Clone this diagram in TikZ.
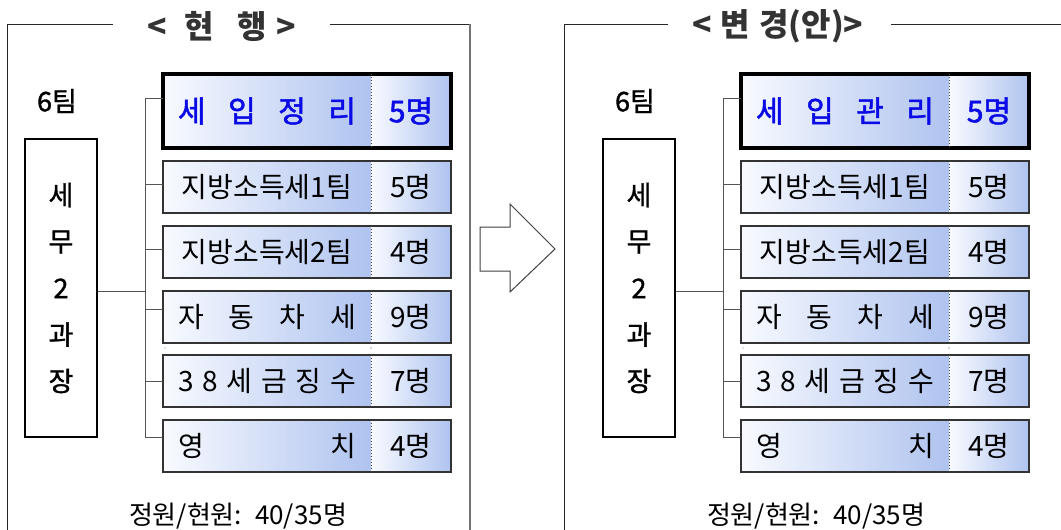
\documentclass[tikz,border=0pt]{standalone}
\usepackage{fontspec}
\setmainfont{Noto Sans CJK KR}
\newfontfamily\semibold[FakeBold=1.2]{Noto Sans CJK KR}
\newfontfamily\hlfont[FakeBold=1.6]{Noto Sans CJK KR}
\usetikzlibrary{calc}
\definecolor{gradL}{HTML}{F8FAFF}
\definecolor{gradR}{HTML}{AFC3EF}
\definecolor{titlegray}{HTML}{333333}
\definecolor{linegray}{HTML}{555555}
\definecolor{hlblue}{HTML}{0A0AE6}
\newcommand\bodyfont{\fontsize{28}{28}\selectfont}
\tikzset{
  cellname/.style={left color=gradL, right color=gradR, minimum width=208pt,
    minimum height=52pt, inner sep=0pt, outer sep=0pt, anchor=north west, font=\bodyfont},
  cellcount/.style={cellname, minimum width=80pt},
  boxline/.style={draw=black!80, line width=1.2pt},
  thickline/.style={draw=black, line width=4pt},
  divider/.style={draw=black!75, dotted, line width=1pt},
  conn/.style={draw=linegray, line width=1pt},
  frameline/.style={draw=black!85, line width=1pt},
  team/.style={font={\semibold\fontsize{27}{27}\selectfont}, inner sep=0pt},
  mgr/.style={draw=black, line width=2.5pt, minimum width=72pt, minimum height=298pt,
    align=center, inner sep=0pt, font={\semibold\fontsize{27}{46.5}\selectfont}},
  hltext/.style={text=hlblue, font={\hlfont\fontsize{30}{30}\selectfont}},
  tinymark/.style={font={\fontsize{3}{3}\selectfont}, text=black!45, inner sep=0pt},
  titletext/.style={font={\fontsize{32}{32}\selectfont\bfseries}, text=titlegray, inner sep=0pt},
  bottomtext/.style={font={\fontsize{26}{26}\selectfont}, inner sep=0pt},
  arrowline/.style={draw=black!75, line width=1pt},
}
% #1 prefix, #2 row id, #3 top y, #4 name text, #5 count text, #6 connector offset
\newcommand\unitrow[6]{%
  \node[cellname] (#1#2a) at (163,#3) {#4};
  \node[cellcount] (#1#2b) at (371,#3) {#5};
  \draw[boxline] (#1#2a.north west) rectangle (#1#2b.south east);
  \draw[divider] (#1#2a.north east) -- (#1#2a.south east);
  \coordinate (#1#2s) at ([yshift=#6pt]#1#2a.west);
  \draw[conn] (#1#2s) -- (#1#2s -| #1sp);
}
% #1 prefix, #2 xshift, #3 top unit name
\newcommand\orgside[3]{%
\begin{scope}[xshift=#2pt]
  \node[team] (#1team) at (57,101) {6팀};
  \node[mgr] (#1mgr) at (61,288) {세\\무\\2\\과\\장};
  \coordinate (#1sp) at (145,0);
  \node[cellname, minimum height=74pt, hltext] (#1ta) at (163,74) {\makebox[178pt][s]{#3}};
  \node[cellcount, minimum height=74pt, hltext] (#1tb) at (371,74) {5명};
  \draw[thickline] (#1ta.north west) rectangle (#1tb.south east);
  \draw[divider] (#1ta.north east) -- (#1ta.south east);
  \coordinate (#1ts) at ([yshift=13pt]#1ta.west);
  \draw[conn] (#1ts) -- (#1ts -| #1sp);
  \unitrow{#1}{r1}{161}{지방소득세1팀}{5명}{3}
  \unitrow{#1}{r2}{226}{지방소득세2팀}{4명}{3}
  \unitrow{#1}{r3}{291}{\makebox[178pt][s]{자 동 차 세}}{9명}{8}
  \unitrow{#1}{r4}{355}{\makebox[178pt][s]{3 8 세 금 징 수}}{7명}{0}
  \unitrow{#1}{r5}{420}{\makebox[178pt][s]{영 치}}{4명}{9}
  \draw[conn] (#1ts -| #1sp) -- (#1r5s -| #1sp);
  \coordinate (#1ms) at ([yshift=-3pt]#1mgr.east);
  \draw[conn] (#1ms) -- (#1ms -| #1sp);
  \node[tinymark] (#1m1) at (165,348) {3};
  \node[tinymark] (#1m2) at (371,348) {8};
  \node[bottomtext] (#1bot) at (238,516) {정원/현원:\hspace{0.5em}40/35명};
\end{scope}}
\begin{document}
\begin{tikzpicture}[x=1pt,y=-1pt]
  \useasboundingbox[fill=white] (0,0) rectangle (1061,530);
  % frames
  \draw[frameline] (113,24) -- (7,24) -- (7,531);
  \draw[frameline] (330,24) -- (470,24);
  \draw[draw=black!55, line width=1.2pt] (470,24) -- (470,531);
  \draw[frameline] (668,24) -- (564,24) -- (564,531);
  \draw[frameline] (891,24) -- (1062,24);
  \node[titletext] (t1) at (222,26) {<\hspace{17pt}현\hspace{24pt}행\hspace{10pt}>};
  \node[titletext] (t2) at (778,26) {<\hspace{8pt}변\hspace{10pt}경(안)>};
  \orgside{L}{0}{세 입 정 리}
  \orgside{R}{578}{세 입 관 리}
  % arrow
  \draw[arrowline] (480,227) -- (510,227) -- (510,204) -- (555,249) -- (510,292)
    -- (510,271) -- (480,271) -- cycle;
\end{tikzpicture}
\end{document}
